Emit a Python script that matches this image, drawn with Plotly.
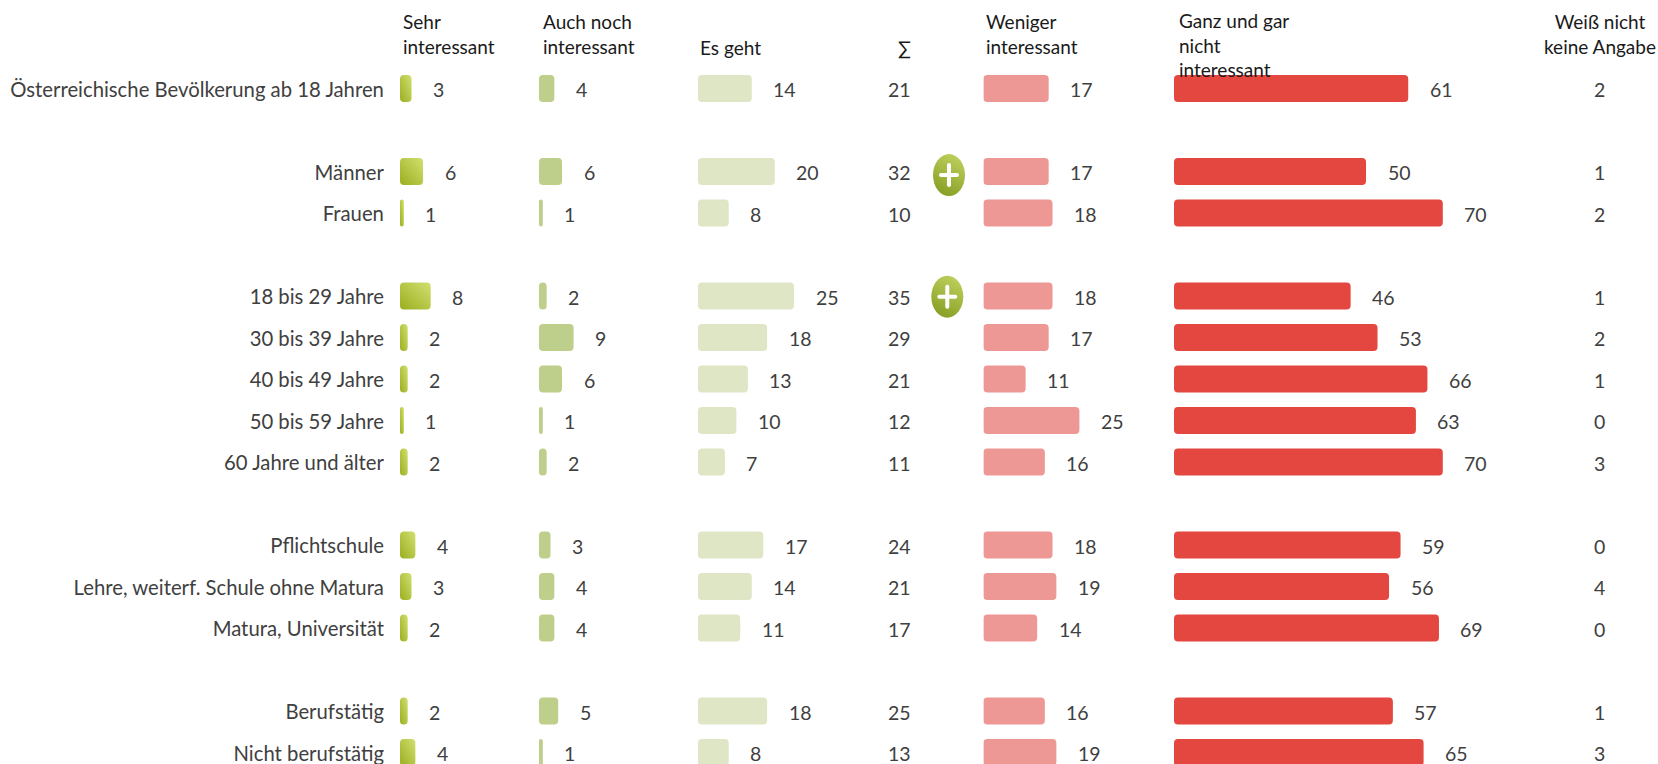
import plotly.graph_objects as go

row_labels = ["Österreichische Bevölkerung ab 18 Jahren", "Männer", "Frauen",
              "18 bis 29 Jahre", "30 bis 39 Jahre", "40 bis 49 Jahre", "50 bis 59 Jahre",
              "60 Jahre und älter", "Pflichtschule", "Lehre, weiterf. Schule ohne Matura",
              "Matura, Universität", "Berufstätig", "Nicht berufstätig"]
row_pos = [0, 2, 3, 5, 6, 7, 8, 9, 11, 12, 13, 15, 16]

sehr = [3, 6, 1, 8, 2, 2, 1, 2, 4, 3, 2, 2, 4]
auch = [4, 6, 1, 2, 9, 6, 1, 2, 3, 4, 4, 5, 1]
esgeht = [14, 20, 8, 25, 18, 13, 10, 7, 17, 14, 11, 18, 8]
summe = [21, 32, 10, 35, 29, 21, 12, 11, 24, 21, 17, 25, 13]
weniger = [17, 17, 18, 18, 17, 11, 25, 16, 18, 19, 14, 16, 19]
ganz = [61, 50, 70, 46, 53, 66, 63, 70, 59, 56, 69, 57, 65]
weiss = [2, 1, 2, 1, 2, 1, 0, 3, 0, 4, 0, 1, 3]

W, H = 1658, 764
ROW0, ROWH, BARH = 88.5, 41.5, 27
PXU = 3.84
FONT = "Lato"
SIZE = 19.5
HSIZE = 19
LSIZE = 20.3
TXT = "#404040"
HDR = "#1a1a1a"

columns = [(sehr, 400, 130, "#b5c648"), (auch, 539, 150, "#bdcf8a"), (esgeht, 698, 270, "#dfe6c5"),
           (weniger, 983.4, 180, "#ee9896"), (ganz, 1174, 320, "#e4473f")]

fig = go.Figure()
layout_axes = {}
annotations = []
for i, (vals, x0, w, col) in enumerate(columns):
    ax = "x" if i == 0 else f"x{i+1}"
    key = "xaxis" if i == 0 else f"xaxis{i+1}"
    fig.add_trace(go.Bar(x=vals, y=row_pos, xaxis=ax, yaxis="y", orientation="h", width=BARH / ROWH,
                         marker=dict(color=col, line=dict(width=0)), hoverinfo="skip", showlegend=False))
    layout_axes[key] = dict(domain=[x0 / W, (x0 + w) / W], range=[0, w / PXU], visible=False,
                            fixedrange=True, anchor="y")
    for v, r in zip(vals, row_pos):
        annotations.append(dict(x=v, y=r, xref=ax, yref="y", text=str(v), showarrow=False, xanchor="left",
                                xshift=19.5, yshift=-1, font=dict(family=FONT, size=SIZE, color=TXT)))

for vals, cx in ((summe, 899), (weiss, 1599)):
    for v, r in zip(vals, row_pos):
        annotations.append(dict(x=cx / W, y=r, xref="paper", yref="y", text=str(v), showarrow=False,
                                xanchor="center", yshift=-1, font=dict(family=FONT, size=SIZE, color=TXT)))

headers = [("Sehr<br>interessant", 401, 33.5, "left"), ("Auch noch<br>interessant", 541, 33.5, "left"),
           ("Es geht", 698, 47, "left"), ("∑", 904, 47, "center"),
           ("Weniger<br>interessant", 984, 33.5, "left"), ("Ganz und gar<br>nicht<br>interessant", 1177, 45, "left"),
           ("Weiß nicht<br>keine Angabe", 1600, 33.5, "center")]
for t, x, y, a in headers:
    annotations.append(dict(x=x / W, y=1 - y / H, xref="paper", yref="paper", text=t, showarrow=False, xanchor=a,
                            yanchor="middle", align=a, font=dict(family=FONT, size=HSIZE, color=HDR)))

plus_rows = [2, 5]
plus_cx = [949, 947.3]
plus_dy = [3.6, 0.7]
shapes = []
for r, cx, dy in zip(plus_rows, plus_cx, plus_dy):
    cy = r + dy / ROWH
    shapes.append(dict(type="circle", xref="paper", yref="y", x0=(cx - 16) / W, x1=(cx + 16) / W,
                       y0=cy - 21 / ROWH, y1=cy + 21 / ROWH, fillcolor="#a0b63e", line=dict(width=0), layer="above"))
    shapes.append(dict(type="line", xref="paper", yref="y", x0=(cx - 8) / W, x1=(cx + 8) / W, y0=cy, y1=cy,
                       line=dict(color="white", width=4), layer="above"))
    shapes.append(dict(type="line", xref="paper", yref="y", x0=cx / W, x1=cx / W, y0=cy - 10 / ROWH, y1=cy + 10 / ROWH,
                       line=dict(color="white", width=4), layer="above"))

fig.update_layout(
    width=W, height=H, margin=dict(l=0, r=0, t=0, b=0), paper_bgcolor="white", plot_bgcolor="white",
    shapes=shapes, annotations=annotations, showlegend=False,
    yaxis=dict(domain=[0, 1], range=[(H - ROW0) / ROWH, -ROW0 / ROWH], tickmode="array", tickvals=row_pos,
               ticktext=row_labels, ticks="outside", ticklen=11, tickcolor="rgba(0,0,0,0)", showgrid=False,
               zeroline=False, showline=False, anchor="x", fixedrange=True,
               tickfont=dict(family=FONT, size=LSIZE, color=TXT)),
    **layout_axes)

post = """
document.body.style.margin='0';
var svg=document.querySelector('svg.main-svg');
var NS='http://www.w3.org/2000/svg';
function grad(id,x1,y1,x2,y2,c1,c2){
 var g=document.createElementNS(NS,'linearGradient');g.setAttribute('id',id);
 g.setAttribute('x1',x1);g.setAttribute('y1',y1);g.setAttribute('x2',x2);g.setAttribute('y2',y2);
 [[0,c1],[1,c2]].forEach(function(s){var t=document.createElementNS(NS,'stop');t.setAttribute('offset',s[0]);t.setAttribute('stop-color',s[1]);g.appendChild(t);});
 svg.querySelector('defs').appendChild(g);}
grad('gSehr',0,1,1,0,'#9aae1f','#d2e070');
grad('gPlus',0.3,1,0.7,0,'#869e24','#bdd05c');
document.querySelectorAll('.barlayer .point path').forEach(function(p){
 var b=p.getBBox(),r=Math.min(4,b.width/2),x=b.x,y=b.y,w=b.width,h=b.height;
 p.setAttribute('d','M'+(x+r)+','+y+'H'+(x+w-r)+'A'+r+','+r+' 0 0 1 '+(x+w)+','+(y+r)+'V'+(y+h-r)+'A'+r+','+r+' 0 0 1 '+(x+w-r)+','+(y+h)+'H'+(x+r)+'A'+r+','+r+' 0 0 1 '+x+','+(y+h-r)+'V'+(y+r)+'A'+r+','+r+' 0 0 1 '+(x+r)+','+y+'Z');
});
document.querySelectorAll('.subplot.xy .barlayer .point path').forEach(function(p){p.style.fill='url(#gSehr)';});
document.querySelectorAll('.ytick text').forEach(function(t){t.setAttribute('dy','1');});
document.querySelectorAll('.shapelayer path').forEach(function(p){
 var st=p.style.stroke||'';
 if(st.indexOf('255, 255, 255')>=0){p.style.strokeLinecap='round';}
 else {p.style.fill='url(#gPlus)';}
});
"""
fig.write_html("out.html", post_script=post, config=dict(displayModeBar=False))
